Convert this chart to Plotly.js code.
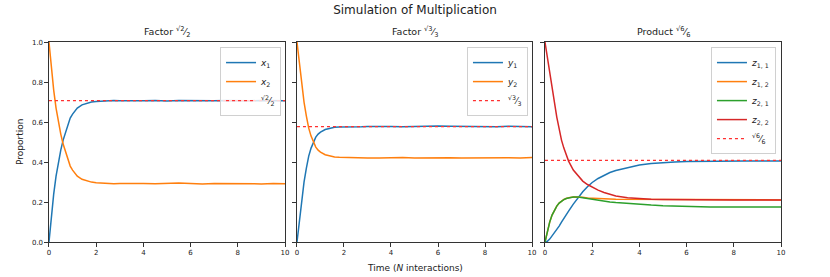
<!DOCTYPE html>
<html>
<head>
<meta charset="utf-8">
<script src="https://cdn.plot.ly/plotly-3.0.1.min.js"></script>
<style>html,body{margin:0;padding:0;background:#fff;}#chart{width:830px;height:277px;}</style>
</head>
<body>
<div id="chart"></div>
<script>
// time grid (N interactions)
const t = [0,0.1,0.2,0.3,0.4,0.5,0.6,0.7,0.8,0.9,1.0,1.2,1.4,1.6,1.8,2.0,2.25,2.5,2.75,3,3.5,4,4.5,5,5.5,6,6.5,7,7.5,8,8.5,9,9.5,10];

// Factor sqrt(2)/2
const x1 = [0,0.13,0.24,0.33,0.40,0.46,0.51,0.55,0.59,0.62,0.64,0.67,0.686,0.695,0.700,0.703,0.705,0.706,0.708,0.707,0.706,0.707,0.708,0.706,0.708,0.707,0.709,0.707,0.708,0.706,0.707,0.708,0.707,0.707];
const x2 = [1,0.87,0.76,0.67,0.60,0.54,0.49,0.45,0.41,0.38,0.36,0.33,0.314,0.305,0.300,0.297,0.295,0.294,0.292,0.293,0.294,0.293,0.292,0.294,0.295,0.293,0.291,0.293,0.292,0.290,0.292,0.291,0.293,0.292];

// Factor sqrt(3)/3
const y1 = [0,0.11,0.22,0.30,0.37,0.43,0.47,0.50,0.525,0.54,0.55,0.563,0.570,0.574,0.576,0.577,0.578,0.578,0.577,0.578,0.579,0.578,0.577,0.579,0.578,0.580,0.579,0.578,0.577,0.578,0.577,0.579,0.578,0.577];
const y2 = [1,0.89,0.78,0.70,0.63,0.57,0.53,0.50,0.475,0.46,0.45,0.437,0.430,0.426,0.424,0.423,0.422,0.421,0.423,0.421,0.420,0.422,0.423,0.421,0.422,0.424,0.422,0.421,0.422,0.420,0.421,0.422,0.421,0.423];

// Product sqrt(6)/6
const z11 = [0,0.004,0.015,0.03,0.045,0.062,0.08,0.10,0.12,0.138,0.155,0.19,0.223,0.252,0.277,0.298,0.318,0.335,0.348,0.358,0.373,0.385,0.393,0.398,0.401,0.403,0.404,0.405,0.405,0.406,0.405,0.405,0.406,0.405];
const z12 = [0,0.055,0.10,0.135,0.16,0.18,0.195,0.205,0.213,0.218,0.222,0.226,0.226,0.224,0.221,0.219,0.217,0.216,0.215,0.214,0.214,0.213,0.213,0.212,0.213,0.212,0.212,0.211,0.212,0.211,0.211,0.212,0.211,0.211];
const z21 = [0,0.055,0.10,0.135,0.16,0.18,0.195,0.205,0.212,0.218,0.221,0.225,0.226,0.222,0.218,0.213,0.209,0.205,0.201,0.198,0.193,0.189,0.185,0.182,0.180,0.178,0.177,0.176,0.176,0.175,0.175,0.174,0.175,0.175];
const z22 = [1,0.93,0.86,0.79,0.70,0.625,0.565,0.51,0.47,0.435,0.405,0.36,0.33,0.305,0.288,0.275,0.26,0.248,0.238,0.231,0.222,0.217,0.214,0.213,0.212,0.212,0.211,0.211,0.211,0.210,0.211,0.211,0.210,0.211];

// reference levels
const refX = [0, 10];
const ref1 = 0.7071, ref2 = 0.5774, ref3 = 0.4082;

const C = ['#1f77b4','#ff7f0e','#2ca02c','#d62728'];
const lw = 1.5;
function ln(x, y, name, color, xa, ya, lg, dash) {
  return {x: x, y: y, name: name, type: 'scatter', mode: 'lines', xaxis: xa, yaxis: ya, legend: lg,
    line: {color: color, width: dash ? 1.3 : lw, dash: dash || 'solid'}};
}
const frac = (a, b) => '<sup>√' + a + '</sup>⁄<sub>' + b + '</sub>';
const data = [
  ln(t, x1, '<i>x</i><sub>1</sub>', C[0], 'x', 'y', 'legend'),
  ln(t, x2, '<i>x</i><sub>2</sub>', C[1], 'x', 'y', 'legend'),
  ln(refX, [ref1, ref1], frac(2, 2), '#ff3030', 'x', 'y', 'legend', 'dot'),
  ln(t, y1, '<i>y</i><sub>1</sub>', C[0], 'x2', 'y2', 'legend2'),
  ln(t, y2, '<i>y</i><sub>2</sub>', C[1], 'x2', 'y2', 'legend2'),
  ln(refX, [ref2, ref2], frac(3, 3), '#ff3030', 'x2', 'y2', 'legend2', 'dot'),
  ln(t, z11, '<i>z</i><sub>1, 1</sub>', C[0], 'x3', 'y3', 'legend3'),
  ln(t, z12, '<i>z</i><sub>1, 2</sub>', C[1], 'x3', 'y3', 'legend3'),
  ln(t, z21, '<i>z</i><sub>2, 1</sub>', C[2], 'x3', 'y3', 'legend3'),
  ln(t, z22, '<i>z</i><sub>2, 2</sub>', C[3], 'x3', 'y3', 'legend3'),
  ln(refX, [ref3, ref3], frac(6, 6), '#ff3030', 'x3', 'y3', 'legend3', 'dot')
];

const F = 'DejaVu Sans, sans-serif';
function xax(dom, anchor) {
  return {domain: dom, anchor: anchor, range: [0, 10], tickvals: [0,2,4,6,8,10], ticks: 'outside', ticklen: 3.5,
    tickcolor: '#333', showline: true, mirror: true, linecolor: '#333', linewidth: 1, showgrid: false, zeroline: false,
    tickfont: {size: 7, color: '#222', family: F}};
}
function yax(anchor, labels) {
  return {domain: [0.126, 0.848], anchor: anchor, range: [0, 1], tickvals: [0,0.2,0.4,0.6,0.8,1.0], tickformat: '.1f',
    showticklabels: labels, ticks: 'outside', ticklen: 3.5, tickcolor: '#333', showline: true, mirror: true,
    linecolor: '#333', linewidth: 1, showgrid: false, zeroline: false, tickfont: {size: 7, color: '#222', family: F}};
}
function leg(xr) {
  return {x: xr, y: 0.83, xanchor: 'right', yanchor: 'top', bgcolor: 'rgba(255,255,255,0.8)', bordercolor: '#d0d0d0',
    borderwidth: 1, font: {size: 9, family: F, color: '#222'}, itemwidth: 30, tracegroupgap: 0};
}
const layout = {
  width: 830, height: 277, margin: {l: 0, r: 0, t: 0, b: 0}, paper_bgcolor: '#fff', plot_bgcolor: '#fff',
  font: {family: F, color: '#222'},
  showlegend: true,
  title: {text: 'Simulation of Multiplication', x: 0.5, xanchor: 'center', y: 0.965, yanchor: 'middle', font: {size: 12, family: F, color: '#222'}},
  xaxis: xax([0.0590, 0.3434], 'y'),
  xaxis2: xax([0.3578, 0.6410], 'y2'),
  xaxis3: xax([0.6566, 0.9410], 'y3'),
  yaxis: yax('x', true),
  yaxis2: yax('x2', false),
  yaxis3: yax('x3', false),
  legend: leg(0.3386),
  legend2: leg(0.6361),
  legend3: leg(0.9349),
  annotations: [
    {text: 'Factor ' + frac(2, 2), x: 0.2012, y: 0.852, xref: 'paper', yref: 'paper', xanchor: 'center', yanchor: 'bottom', showarrow: false, font: {size: 9.5, family: F, color: '#222'}},
    {text: 'Factor ' + frac(3, 3), x: 0.4994, y: 0.852, xref: 'paper', yref: 'paper', xanchor: 'center', yanchor: 'bottom', showarrow: false, font: {size: 9.5, family: F, color: '#222'}},
    {text: 'Product ' + frac(6, 6), x: 0.7988, y: 0.852, xref: 'paper', yref: 'paper', xanchor: 'center', yanchor: 'bottom', showarrow: false, font: {size: 9.5, family: F, color: '#222'}},
    {text: 'Proportion', x: 0.024, y: 0.487, xref: 'paper', yref: 'paper', xanchor: 'center', yanchor: 'middle', textangle: -90, showarrow: false, font: {size: 9, family: F, color: '#222'}},
    {text: 'Time (<i>N</i> interactions)', x: 0.5, y: 0.032, xref: 'paper', yref: 'paper', xanchor: 'center', yanchor: 'middle', showarrow: false, font: {size: 9, family: F, color: '#222'}}
  ]
};
Plotly.newPlot('chart', data, layout, {displayModeBar: false, staticPlot: true});
</script>
</body>
</html>
